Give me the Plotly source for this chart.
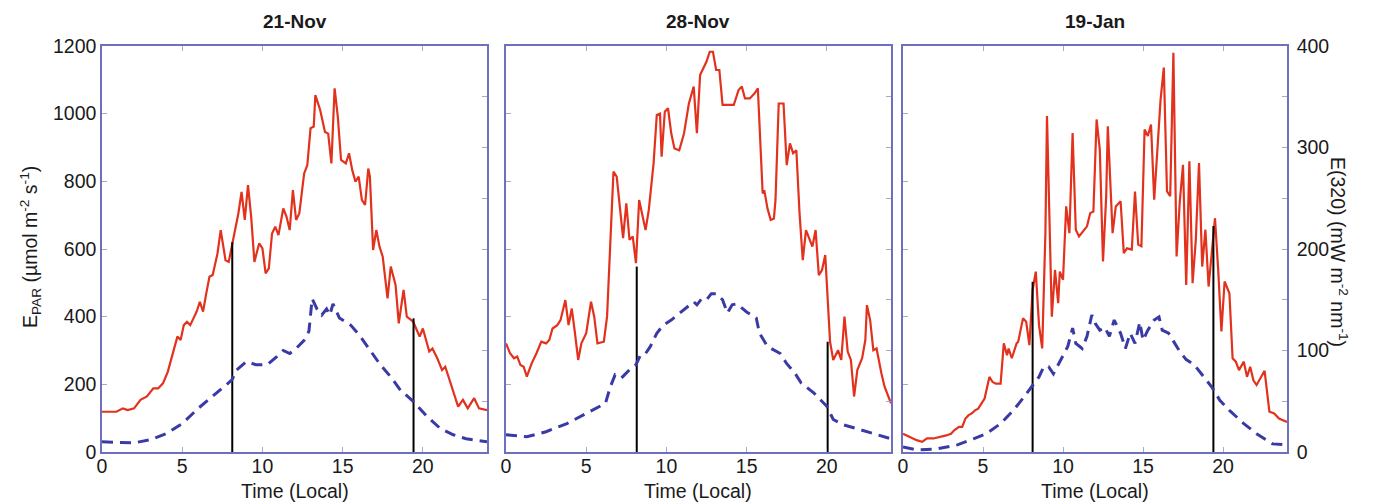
import plotly.graph_objects as go

# ---------------- data ----------------
panel_titles = ["21-Nov", "28-Nov", "19-Jan"]
x_tick_vals = [0, 5, 10, 15, 20]

# 21-Nov : E_PAR (umol m-2 s-1)
t_par_nov21 = [0, 0.9, 1.3, 1.6, 2.0, 2.4, 2.8, 3.2, 3.5, 3.8, 4.1, 4.4, 4.7, 4.9, 5.1, 5.3, 5.5, 5.7, 5.9, 6.1,
               6.3, 6.5, 6.7, 6.9, 7.2, 7.4, 7.5, 7.7, 7.9, 8.2, 8.5, 8.7, 8.9, 9.1, 9.3, 9.5, 9.8, 10.0, 10.2, 10.4,
               10.6, 10.8, 11.0, 11.3, 11.5, 11.7, 11.9, 12.1, 12.3, 12.6, 12.8, 13.0, 13.2, 13.3, 13.6, 13.9, 14.1,
               14.3, 14.5, 14.7, 14.9, 15.2, 15.4, 15.6, 15.8, 16.0, 16.2, 16.4, 16.6, 16.7, 16.9, 17.1, 17.3, 17.5,
               17.8, 18.0, 18.3, 18.5, 18.8, 19.0, 19.4, 19.8, 20.0, 20.4, 20.6, 20.9, 21.2, 21.4, 21.6, 21.9, 22.2,
               22.5, 22.8, 23.2, 23.5, 24]
par_nov21 = [119, 119, 129, 124, 129, 154, 164, 188, 188, 203, 237, 292, 341, 331, 375, 385, 375, 395, 415, 444,
             415, 469, 518, 523, 587, 656, 626, 567, 562, 636, 705, 769, 686, 789, 695, 562, 617, 602, 528, 543,
             646, 666, 641, 720, 696, 656, 774, 686, 705, 823, 848, 957, 962, 1055, 1011, 946, 941,
             853, 1075, 991, 863, 853, 883, 833, 799, 814, 745, 730, 838, 814, 597, 656, 607, 577,
             454, 548, 494, 380, 479, 400, 385, 341, 365, 297, 306, 277, 242, 252, 223, 173, 134,
             154, 129, 159, 129, 124]
# 21-Nov : E(320) (mW m-2 nm-1)
t_uv_nov21 = [0, 2, 3, 4, 5, 6, 7.2, 8.1, 8.4, 9.0, 9.6, 10.3, 10.9, 11.3, 11.7, 12.1, 12.6, 12.9, 13.1, 13.4,
              13.7, 14.0, 14.2, 14.4, 14.8, 15.5, 16.1, 16.7, 17.3, 18.0, 18.6, 19.4, 20.2, 21.1, 21.9, 22.7, 24]
uv_nov21 = [10, 9, 12, 18, 28, 43, 59, 71, 81, 89, 86, 86, 94, 100, 97, 102, 110, 119, 151, 141,
            135, 141, 135, 146, 132, 125, 114, 100, 87, 74, 61, 50, 36, 23, 17, 13, 10]

# 28-Nov
t_par_nov28 = [0, 0.25, 0.5, 0.7, 0.9, 1.1, 1.3, 1.6, 1.9, 2.2, 2.5, 2.7, 2.9, 3.2, 3.4, 3.7, 3.9, 4.1, 4.3, 4.5,
               4.7, 5.0, 5.3, 5.5, 5.7, 6.1, 6.3, 6.5, 6.7, 6.9, 7.2, 7.3, 7.5, 7.7, 7.9, 8.1, 8.3, 8.5, 8.7, 8.9,
               9.2, 9.4, 9.6, 9.7, 9.9, 10.1, 10.3, 10.5, 10.8, 11.1, 11.4, 11.7, 11.9, 12.1, 12.3, 12.5, 12.7, 12.9,
               13.1, 13.3, 13.5, 13.8, 14.2, 14.5, 14.7, 14.9, 15.2, 15.5, 15.7, 16.0, 16.1, 16.3, 16.5, 16.7, 16.8,
               17.0, 17.3, 17.5, 17.7, 17.9, 18.1, 18.3, 18.5, 18.7, 18.9, 19.1, 19.3, 19.5, 19.7, 19.9, 20.0, 20.2,
               20.4, 20.7, 20.9, 21.1, 21.3, 21.5, 21.7, 21.9, 22.2, 22.4, 22.5, 22.7, 22.9, 23.1, 23.4, 23.6, 24]
par_nov28 = [321, 292, 277, 282, 257, 252, 223, 262, 292, 326, 321, 331, 365, 375, 390, 449, 375, 424, 351, 272,
             321, 351, 444, 400, 321, 326, 400, 627, 829, 814, 681, 632, 735, 627, 637, 558, 745, 705, 656, 715,
             853, 996, 1000, 873, 1006, 1016, 942, 897, 892, 942, 1030, 1080, 942, 1114, 1134, 1154, 1183, 1183,
             1129, 1129, 1026, 1026, 1026, 1070, 1080, 1045, 1045, 1060, 1075, 764, 774, 720, 686, 690, 745,
             1030, 1030, 848, 912, 883, 892, 705, 567, 656, 632, 607, 656, 523, 538, 582, 498, 326,
             272, 301, 272, 400, 297, 272, 164, 242, 277, 331, 434, 390, 301, 306, 233, 193, 144]
t_uv_nov28 = [0, 1.3, 2.5, 3.8, 5.0, 6.2, 6.5, 6.8, 7.2, 7.7, 8.1, 8.4, 8.7, 9.0, 9.4, 9.8, 10.3, 10.9, 11.3, 11.7,
              11.9, 12.2, 12.5, 12.8, 13.1, 13.5, 13.8, 14.1, 14.4, 15.0, 15.6, 15.8, 16.3, 17.1, 17.5, 18.0, 18.4,
              19.2, 20.0, 20.4, 21.0, 21.9, 22.9, 24]
uv_nov28 = [17, 15, 20, 28, 38, 48, 64, 76, 73, 81, 86, 96, 97, 104, 117, 125, 130, 138, 143, 148,
            145, 151, 150, 156, 156, 150, 137, 145, 146, 138, 132, 117, 104, 97, 87, 78, 68,
            58, 45, 32, 27, 23, 18, 13]

# 19-Jan
t_par_jan19 = [0, 0.4, 0.85, 1.2, 1.5, 1.9, 2.3, 2.7, 3.0, 3.2, 3.5, 3.7, 3.9, 4.1, 4.3, 4.5, 4.7, 4.9, 5.1, 5.4,
               5.6, 5.8, 6.1, 6.3, 6.5, 6.6, 6.8, 7.1, 7.2, 7.5, 7.7, 7.9, 8.1, 8.3, 8.5, 8.7, 8.9, 9.0, 9.3, 9.5,
               9.7, 9.8, 10.0, 10.2, 10.4, 10.6, 10.8, 11.0, 11.3, 11.5, 11.7, 11.9, 12.1, 12.3, 12.5, 12.7, 12.8,
               13.1, 13.3, 13.6, 13.8, 14.0, 14.3, 14.5, 14.7, 14.9, 15.1, 15.3, 15.5, 15.7, 15.9, 16.1, 16.3, 16.5,
               16.7, 16.9, 17.1, 17.3, 17.5, 17.7, 17.9, 18.1, 18.3, 18.5, 18.7, 18.9, 19.1, 19.3, 19.5, 19.7, 19.9,
               20.1, 20.4, 20.6, 20.8, 21.0, 21.3, 21.5, 21.7, 21.9, 22.1, 22.6, 22.9, 23.2, 23.5, 24]
par_jan19 = [54, 44, 35, 30, 40, 40, 44, 49, 54, 64, 74, 74, 99, 109, 114, 123, 128, 143, 158, 222,
             207, 202, 202, 321, 286, 306, 277, 321, 326, 395, 385, 316, 479, 533, 375, 306, 647, 993, 400, 538,
             440, 533, 509, 726, 647, 943, 657, 637, 657, 667, 706, 711, 983, 894, 563, 756, 963,
             647, 726, 741, 588, 602, 598, 770, 613, 608, 953, 934, 968, 746, 894, 1042, 1136, 770,
             756, 1180, 578, 741, 849, 494, 859, 499, 627, 854, 548, 657, 489, 588, 691, 538, 356,
             504, 469, 277, 267, 242, 267, 222, 252, 212, 198, 240, 119, 114, 99, 89]
t_uv_jan19 = [0, 0.9, 2.1, 3.4, 4.4, 5.2, 6.1, 6.9, 7.5, 8.1, 8.5, 8.8, 9.1, 9.4, 9.7, 10.0, 10.3, 10.6, 10.8, 11.2,
              11.5, 11.8, 12.0, 12.3, 12.6, 12.9, 13.2, 13.6, 13.9, 14.2, 14.5, 14.8, 15.0, 15.3, 15.7, 16.0, 16.2,
              16.6, 17.0, 17.3, 17.7, 18.2, 18.8, 19.3, 19.8, 20.4, 21.3, 22.1, 23.1, 24]
uv_jan19 = [5, 2, 3, 7, 13, 18, 28, 41, 53, 66, 74, 84, 84, 77, 86, 94, 104, 122, 107, 102,
            114, 135, 127, 120, 123, 114, 130, 117, 102, 117, 107, 128, 110, 120, 130, 133, 120,
            117, 107, 99, 91, 86, 74, 64, 51, 41, 28, 18, 8, 7]

# marker times and their E_PAR heights
marker_times = [[8.12, 19.42], [8.15, 20.05], [8.1, 19.4]]
marker_heights = [[620, 395], [548, 326], [503, 668]]

par_times = [t_par_nov21, t_par_nov28, t_par_jan19]
par_values = [par_nov21, par_nov28, par_jan19]
uv_times = [t_uv_nov21, t_uv_nov28, t_uv_jan19]
uv_values = [uv_nov21, uv_nov28, uv_jan19]

left_ticks = [0, 200, 400, 600, 800, 1000, 1200]
right_ticks = [0, 100, 200, 300, 400]

# ---------------- style ----------------
OFF = 8                      # page body margin of the html page
W, H = 1375 - OFF, 504 - OFF
FONT = "Liberation Sans, Arial, sans-serif"
FS = 19.5
FRAME = "#6f6fbf"
TICKC = "#a7a7cf"
RED = "#e2321d"
BLUE = "#3a3aa6"
TXT = "#1a1a1a"

panel_px = [(102 - OFF, 487 - OFF), (506 - OFF, 891 - OFF), (903 - OFF, 1287 - OFF)]
y_top, y_bot = 46 - OFF, 452 - OFF
ydom = [1 - y_bot / H, 1 - y_top / H]

fig = go.Figure()
layout = dict(
    width=W, height=H,
    margin=dict(l=0, r=0, t=0, b=0, pad=0, autoexpand=False),
    paper_bgcolor="white", plot_bgcolor="white",
    showlegend=False,
    font=dict(family=FONT, size=FS, color=TXT),
)

annotations = []
for i in range(3):
    xa = f"x{i+1}" if i else "x"
    yl_idx = 2 * i + 1
    yr_idx = 2 * i + 2
    yl = f"y{yl_idx}" if yl_idx > 1 else "y"
    yr = f"y{yr_idx}"

    fig.add_trace(go.Scatter(x=par_times[i], y=par_values[i], mode="lines",
                             line=dict(color=RED, width=2.2), xaxis=xa, yaxis=yl))
    mx, my = [], []
    for t, h in zip(marker_times[i], marker_heights[i]):
        mx += [t, t, None]
        my += [0, h, None]
    fig.add_trace(go.Scatter(x=mx, y=my, mode="lines",
                             line=dict(color="black", width=2), xaxis=xa, yaxis=yl))
    fig.add_trace(go.Scatter(x=uv_times[i], y=uv_values[i], mode="lines",
                             line=dict(color=BLUE, width=3, dash="11px,7px"), xaxis=xa, yaxis=yr))

    x0, x1 = panel_px[i]
    dom = [x0 / W, x1 / W]
    xkey = "xaxis" if i == 0 else f"xaxis{i+1}"
    ylkey = "yaxis" if yl_idx == 1 else f"yaxis{yl_idx}"
    yrkey = f"yaxis{yr_idx}"
    layout[xkey] = dict(domain=dom, range=[0, 24], anchor=yl, tickvals=x_tick_vals, automargin=False,
                        ticks="inside", ticklen=5, tickcolor=TICKC, showline=True, linecolor=FRAME,
                        linewidth=1.5, mirror="ticks", showgrid=False, zeroline=False,
                        ticklabelstandoff=-4,
                        tickfont=dict(size=FS, family=FONT, color=TXT))
    layout[ylkey] = dict(domain=ydom, range=[0, 1200], anchor=xa, tickvals=left_ticks, automargin=False,
                         ticks="inside", ticklen=5, tickcolor=TICKC, showline=True, linecolor=FRAME,
                         linewidth=1.5, showgrid=False, zeroline=False,
                         showticklabels=(i == 0),
                         tickfont=dict(size=FS, family=FONT, color=TXT))
    layout[yrkey] = dict(domain=ydom, range=[0, 400], anchor=xa, overlaying=yl, side="right",
                         tickvals=right_ticks, automargin=False,
                         minor=dict(dtick=50, ticks="inside", ticklen=5, tickcolor=TICKC, showgrid=False),
                         ticks="inside", ticklen=5, tickcolor=TICKC, showline=True, linecolor=FRAME,
                         linewidth=1.5, showgrid=False, zeroline=False,
                         showticklabels=(i == 2), ticklabelstandoff=4,
                         tickfont=dict(size=FS, family=FONT, color=TXT))

    cx = (x0 + x1) / 2 / W
    annotations.append(dict(text=f"<b>{panel_titles[i]}</b>", x=cx, y=1 - (21 - OFF) / H,
                            xref="paper", yref="paper",
                            showarrow=False, font=dict(size=19, family=FONT, color=TXT),
                            xanchor="center", yanchor="middle"))
    annotations.append(dict(text="Time (Local)", x=cx, y=1 - (491 - OFF) / H, xref="paper", yref="paper",
                            showarrow=False, font=dict(size=FS, family=FONT, color=TXT),
                            xanchor="center", yanchor="middle"))

annotations.append(dict(text="E<sub>PAR</sub> (µmol m<sup>-2</sup> s<sup>-1</sup>)", x=(30 - OFF) / W,
                        y=1 - (247 - OFF) / H,
                        xref="paper", yref="paper", showarrow=False, textangle=-90,
                        font=dict(size=FS, family=FONT, color=TXT), xanchor="center", yanchor="middle"))
annotations.append(dict(text="E(320) (mW m<sup>-2</sup> nm<sup>-1</sup>)", x=(1339 - OFF) / W,
                        y=1 - (252 - OFF) / H,
                        xref="paper", yref="paper", showarrow=False, textangle=90,
                        font=dict(size=FS, family=FONT, color=TXT), xanchor="center", yanchor="middle"))
layout["annotations"] = annotations

fig.update_layout(**layout)
fig.write_html("out.html")
